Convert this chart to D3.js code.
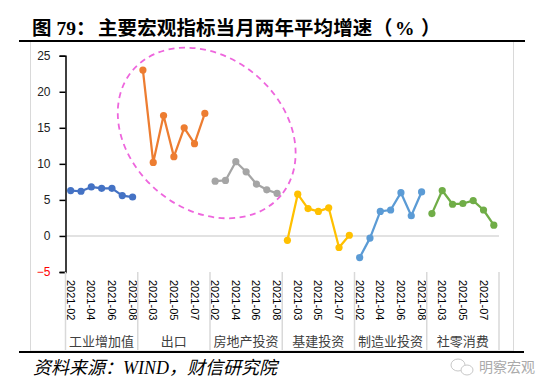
<!DOCTYPE html>
<html>
<head>
<meta charset="utf-8">
<script src="https://cdn.jsdelivr.net/npm/d3@7"></script>
<style>
  html, body { margin: 0; padding: 0; background: #fff; }
  svg { display: block; }
</style>
</head>
<body>
<svg id="chart" width="550" height="392"></svg>
<script>
// ---- data ----
const groups = ["工业增加值", "出口", "房地产投资", "基建投资", "制造业投资", "社零消费"];
const months = ["2021-02", "2021-03", "2021-04", "2021-05", "2021-06", "2021-07", "2021-08"];
const industry      = [6.3, 6.2, 6.8, 6.6, 6.6, 5.6, 5.4];
const exports_      = [23.0, 10.2, 16.7, 11.0, 15.0, 12.8, 17.0];
const realEstate    = [7.6, 7.7, 10.3, 8.9, 7.2, 6.4, 5.9];
const infrastructure= [-0.6, 5.8, 3.8, 3.4, 3.9, -1.6, 0.1];
const manufacturing = [-3.0, -0.3, 3.4, 3.6, 6.0, 2.8, 6.1];
const retail        = [3.1, 6.3, 4.4, 4.5, 4.9, 3.6, 1.5];
const seriesValues = [industry, exports_, realEstate, infrastructure, manufacturing, retail];
const seriesColors = ["#4472C4", "#ED7D31", "#A5A5A5", "#FFC000", "#5B9BD5", "#70AD47"];
const yTicks = [-5, 0, 5, 10, 15, 20, 25];
const titleParts = ["图 79：", "主要宏观指标当月两年平均增速", "（", "%", "）"];
const source = "资料来源：WIND，财信研究院";
const watermark = "明察宏观";

// ---- layout ----
const svg = d3.select("#chart");
const plotLeft = 65.5, plotRight = 499, yTop = 55.7, yBottom = 272;

const keys = [];
groups.forEach((g, gi) => months.forEach((m, mi) => keys.push(gi + "|" + mi)));
const x = d3.scaleBand().domain(keys).range([plotLeft, plotRight]).padding(0);
const y = d3.scaleLinear().domain([-5, 25]).range([yBottom, yTop]);
const cx = (gi, mi) => x(gi + "|" + mi) + x.bandwidth() / 2;

// frame
svg.append("rect").attr("x", 30.5).attr("y", 41).attr("width", 483).attr("height", 310)
  .attr("fill", "none").attr("stroke", "#d9d9d9").attr("stroke-width", 1);

// title
const t = svg.append("text").attr("y", 35)
  .attr("font-family", "'Liberation Serif','Noto Sans CJK SC'")
  .attr("font-weight", "bold").attr("font-size", 19.5).attr("fill", "#000");
t.append("tspan").attr("x", 32).text(titleParts[0]);
t.append("tspan").attr("x", 98).attr("letter-spacing", 0.1).text(titleParts[1]);
t.append("tspan").attr("x", 373).text(titleParts[2]);
t.append("tspan").attr("x", 395).text(titleParts[3]);
t.append("tspan").attr("x", 421).text(titleParts[4]);

svg.append("line").attr("x1", 19).attr("x2", 525).attr("y1", 41).attr("y2", 41)
  .attr("stroke", "#000").attr("stroke-width", 2.2);
svg.append("line").attr("x1", 19).attr("x2", 524).attr("y1", 352).attr("y2", 352)
  .attr("stroke", "#000").attr("stroke-width", 2.2);

// zero line
svg.append("line").attr("x1", plotLeft).attr("x2", plotRight)
  .attr("y1", y(0)).attr("y2", y(0)).attr("stroke", "#d9d9d9").attr("stroke-width", 1.5);

// y axis
const yAxis = d3.axisLeft(y).tickValues(yTicks).tickSize(6).tickPadding(9).tickFormat(d3.format("d"));
const yg = svg.append("g").attr("transform", `translate(${plotLeft},0)`).call(yAxis);
yg.select(".domain").attr("stroke", "#000").attr("stroke-width", 1.5);
yg.selectAll(".tick line").attr("stroke", "#000").attr("stroke-width", 1.5);
yg.selectAll(".tick text")
  .attr("font-family", "'Liberation Sans','DejaVu Sans',sans-serif")
  .attr("font-size", 12)
  .attr("fill", d => d < 0 ? "#ff0000" : "#222");

// x axis: month labels (every other category overall)
const xg = svg.append("g");
keys.forEach((k, i) => {
  if (i % 2 !== 0) return;
  const [gi, mi] = k.split("|").map(Number);
  const px = cx(gi, mi);
  xg.append("text")
    .attr("transform", `translate(${px - 4},280) rotate(90)`)
    .attr("font-family", "'Liberation Sans','DejaVu Sans',sans-serif")
    .attr("font-size", 11).attr("fill", "#000")
    .text(months[mi]);
});
// group separators and names
groups.forEach((g, gi) => {
  const x0 = x(gi + "|0");
  const x1 = x(gi + "|" + (months.length - 1)) + x.bandwidth();
  xg.append("text")
    .attr("x", (x0 + x1) / 2).attr("y", 346)
    .attr("text-anchor", "middle")
    .attr("font-family", "'Noto Sans CJK SC',sans-serif")
    .attr("font-size", 13).attr("fill", "#404040")
    .text(g);
});
for (let gi = 0; gi <= groups.length; gi++) {
  const xx = gi < groups.length ? x(gi + "|0") : plotRight;
  xg.append("line").attr("x1", xx).attr("x2", xx).attr("y1", yBottom).attr("y2", 350)
    .attr("stroke", "#d9d9d9").attr("stroke-width", 1.5);
}

// series
const line = d3.line().x(d => d[0]).y(d => d[1]);
seriesValues.forEach((vals, gi) => {
  const pts = vals.map((v, mi) => [cx(gi, mi), y(v)]);
  svg.append("path").attr("d", line(pts)).attr("fill", "none")
    .attr("stroke", seriesColors[gi]).attr("stroke-width", 2.25)
    .attr("stroke-linejoin", "round");
  svg.selectAll(null).data(pts).enter().append("circle")
    .attr("cx", d => d[0]).attr("cy", d => d[1]).attr("r", 3.6)
    .attr("fill", seriesColors[gi]);
});

// dashed ellipse highlight
svg.append("ellipse")
  .attr("transform", "translate(206.7,133) rotate(40)")
  .attr("rx", 97).attr("ry", 76)
  .attr("fill", "none").attr("stroke", "#EE66DD").attr("stroke-width", 1.8)
  .attr("stroke-dasharray", "6,4.5");

// footer
svg.append("text").attr("x", 33).attr("y", 374)
  .attr("font-family", "'Liberation Serif','Noto Sans CJK SC',serif")
  .attr("font-style", "italic").attr("font-size", 18).attr("fill", "#000")
  .text(source);

// watermark
const wm = svg.append("g").attr("fill", "none").attr("stroke", "#c8c8c8").attr("stroke-width", 1);
wm.append("ellipse").attr("cx", 458).attr("cy", 365).attr("rx", 7).attr("ry", 6);
wm.append("ellipse").attr("cx", 467).attr("cy", 370).attr("rx", 6).attr("ry", 5).attr("fill", "#fff");
svg.append("text").attr("x", 479).attr("y", 372)
  .attr("font-family", "'Noto Sans CJK SC',sans-serif")
  .attr("font-size", 14).attr("fill", "#aaaaaa")
  .text(watermark);
</script>
</body>
</html>
